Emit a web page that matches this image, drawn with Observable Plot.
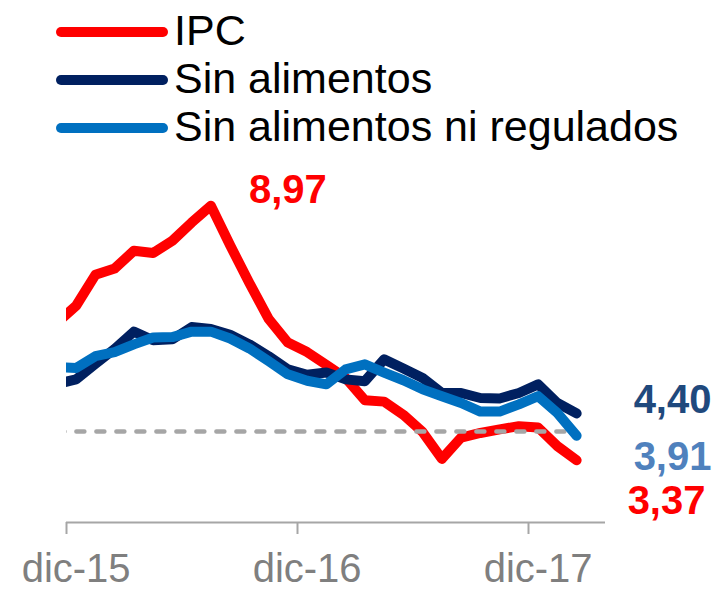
<!DOCTYPE html>
<html><head><meta charset="utf-8">
<script src="https://cdn.jsdelivr.net/npm/d3@7"></script>
<script src="https://cdn.jsdelivr.net/npm/@observablehq/plot@0.6"></script>
<style>
body{margin:0;background:#fff;font-family:"Liberation Sans",Arial,sans-serif;}
#wrap{position:relative;width:720px;height:592px;overflow:hidden;background:#fff}
#legend{position:relative;width:720px;height:160px}
.sw{position:absolute;left:56px;width:112px;height:10px;border-radius:5px}
.lt{position:absolute;left:174px;font-size:43px;line-height:43px;color:#000;white-space:nowrap}
#chart svg{display:block}
</style></head><body>
<div id="wrap"><div id="legend"></div><div id="chart"></div></div>
<script>
// Months (nov-15 .. feb-18)
const months = ["nov-15","dic-15","ene-16","feb-16","mar-16","abr-16","may-16","jun-16","jul-16","ago-16","sep-16","oct-16","nov-16","dic-16",
  "ene-17","feb-17","mar-17","abr-17","may-17","jun-17","jul-17","ago-17","sep-17","oct-17","nov-17","dic-17","ene-18","feb-18"];
// Annual inflation (%)
const ipc = [6.39,6.77,7.45,7.59,7.98,7.93,8.20,8.60,8.97,8.10,7.27,6.48,5.96,5.75,
  5.47,5.18,4.69,4.66,4.37,3.99,3.40,3.87,3.97,4.05,4.12,4.09,3.68,3.37];
const sinAlimentos = [5.05,5.15,5.49,5.82,6.20,6.01,6.03,6.30,6.26,6.13,5.92,5.66,5.37,5.25,
  5.30,5.15,5.11,5.59,5.39,5.18,4.85,4.85,4.74,4.73,4.85,5.04,4.63,4.40];
const sinAlimRegulados = [5.42,5.40,5.66,5.75,5.92,6.07,6.08,6.20,6.20,6.05,5.83,5.55,5.26,5.12,
  5.04,5.37,5.48,5.30,5.13,4.93,4.78,4.63,4.44,4.44,4.60,4.78,4.41,3.91];
const seriesNames = ["IPC","Sin alimentos","Sin alimentos ni regulados"];
const seriesColors = ["#FF0000","#002060","#0070C0"];
const tickLabels = ["dic-15","dic-16","dic-17"];
const meta = 4;

const fmt = v => v.toFixed(2).replace(".", ",");

// Legend (HTML)
const legend = document.getElementById("legend");
seriesNames.forEach((name, k) => {
  const sw = document.createElement("div");
  sw.className = "sw";
  sw.style.top = (26.7 + k * 48.2) + "px";
  sw.style.background = seriesColors[k];
  legend.appendChild(sw);
  const t = document.createElement("div");
  t.className = "lt";
  t.style.top = (8.6 + k * 48) + "px";
  t.textContent = name;
  legend.appendChild(t);
});

const allSeries = [ipc, sinAlimentos, sinAlimRegulados];
const rows = [];
allSeries.forEach((vals, k) => vals.forEach((v, i) => rows.push({i, mes: months[i], v, s: seriesNames[k]})));
const bySeries = s => rows.filter(d => d.s === s);

const tickIdx = tickLabels.map(t => months.indexOf(t));
const boundaries = tickIdx.map(i => i - 0.5);
const last = months.length - 1;
const peakI = ipc.indexOf(d3.max(ipc));

const lineOpts = {x: "i", y: "v", strokeWidth: 10, clip: true, strokeLinejoin: "round", strokeLinecap: "round"};
const numOpts = {x: "i", y: "v", text: d => fmt(d.v), lineAnchor: "bottom", fontSize: 40, fontWeight: "bold"};

const chart = Plot.plot({
  width: 720, height: 432,
  marginLeft: 66, marginRight: 115, marginTop: 3, marginBottom: 70,
  x: {domain: [0.5, months.length + 0.5], axis: null},
  y: {domain: [2, 9.9], axis: null},
  style: {fontFamily: '"Liberation Sans", Arial, sans-serif', background: "white", overflow: "visible"},
  marks: [
    Plot.ruleY([2], {stroke: "#A6A6A6", strokeWidth: 2}),
    Plot.axisX(boundaries, {tickSize: 12, tickFormat: () => "", stroke: "#A6A6A6", strokeWidth: 2, label: null}),
    Plot.axisX(tickIdx, {tickSize: 0, tickPadding: 31, tickFormat: i => months[i], fontSize: 40, color: "#7F7F7F", label: null}),
    Plot.line(bySeries(seriesNames[0]), {...lineOpts, stroke: seriesColors[0]}),
    Plot.ruleY([meta], {x1: 0, x2: last, stroke: "#A6A6A6", strokeWidth: 4.5, strokeDasharray: "8,12", strokeLinecap: "round", clip: true}),
    Plot.line(bySeries(seriesNames[1]), {...lineOpts, stroke: seriesColors[1]}),
    Plot.line(bySeries(seriesNames[2]), {...lineOpts, stroke: seriesColors[2]}),
    Plot.text([{i: peakI, v: ipc[peakI]}], {...numOpts, dx: 77, dy: -3, textAnchor: "middle", fill: "#FF0000"}),
    Plot.text([{i: last, v: sinAlimentos[last]}], {...numOpts, dx: 57, dy: 0, textAnchor: "start", fill: "#1F497D"}),
    Plot.text([{i: last, v: sinAlimRegulados[last]}], {...numOpts, dx: 57, dy: 34, textAnchor: "start", fill: "#4F81BD"}),
    Plot.text([{i: last, v: ipc[last]}], {...numOpts, dx: 51, dy: 54, textAnchor: "start", fill: "#FF0000"})
  ]
});
document.getElementById("chart").appendChild(chart);
</script>
</body></html>
